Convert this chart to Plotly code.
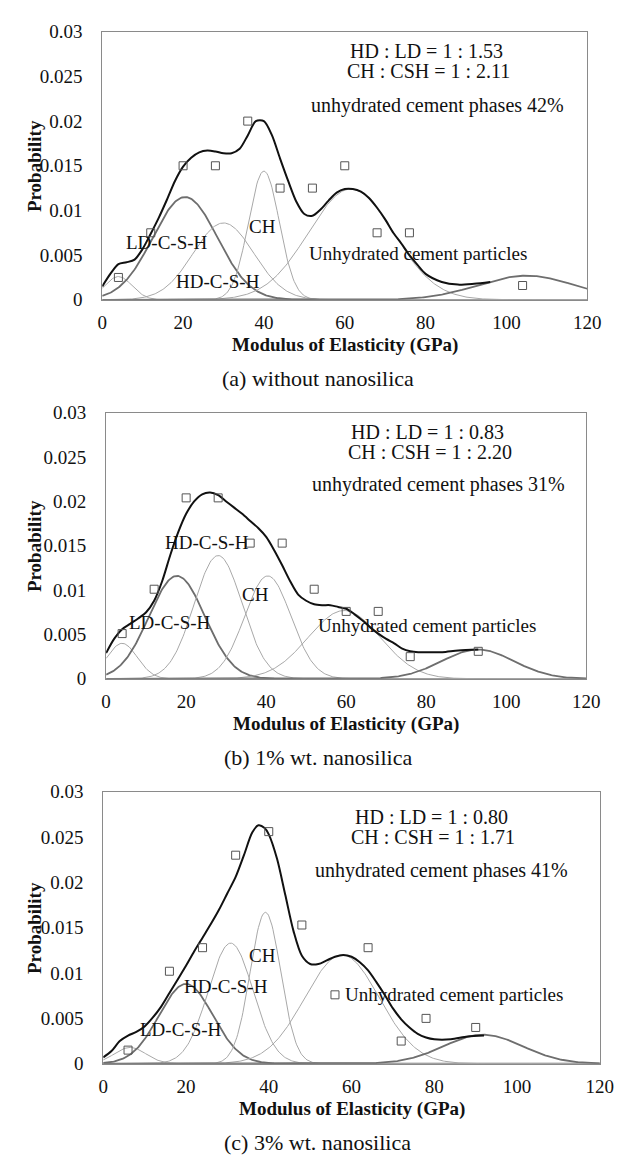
import numpy as np
import plotly.graph_objects as go

# ---------------- data ----------------
# histogram bin probabilities (open squares)
a_bin_x = [4, 12, 20, 28, 36, 44, 52, 60, 68, 76, 104]
a_bin_y = [0.0025, 0.0075, 0.015, 0.015, 0.020, 0.0125, 0.0125, 0.015, 0.0075, 0.0075, 0.0016]
b_bin_x = [4, 12, 20, 28, 36, 44, 52, 60, 68, 76, 93]
b_bin_y = [0.0051, 0.0101, 0.0204, 0.0204, 0.0153, 0.0153, 0.0101, 0.0076, 0.0076, 0.0025, 0.0031]
c_bin_x = [6, 16, 24, 32, 40, 48, 56, 64, 72, 78, 90]
c_bin_y = [0.0015, 0.0102, 0.0128, 0.0230, 0.0256, 0.0153, 0.0076, 0.0128, 0.0025, 0.0050, 0.0040]

# fitted normal components: [small, LD-C-S-H, HD-C-S-H, CH, unhydrated, unhydrated 2]
comp_dark = [False, True, False, False, False, True]
a_mean = [4, 20.5, 30, 40, 61.5, 105]
a_sd = [3.4, 8, 7.5, 3.8, 10.5, 12]
a_peak = [0.0026, 0.0115, 0.0086, 0.0144, 0.0124, 0.0027]
b_mean = [4, 17.7, 28, 40.4, 59.5, 92.9]
b_sd = [3.8, 7, 6, 5.8, 9, 9]
b_peak = [0.0040, 0.0116, 0.0139, 0.0116, 0.0077, 0.0033]
c_mean = [6.5, 20, 30.8, 39.2, 57.7, 91.8]
c_sd = [3.8, 6.5, 5.4, 3.7, 9, 9.5]
c_peak = [0.0018, 0.0088, 0.0133, 0.0167, 0.0120, 0.0032]

# overall fitted curve (black)
a_env_x = [0, 2, 4, 6, 8, 10, 12, 14, 16, 18, 20, 22, 24, 26, 28, 30, 32, 34, 36, 38, 40, 42, 44, 46, 48,
           50, 52, 54, 56, 58, 60, 62, 64, 66, 68, 70, 72, 74, 76, 78, 80, 84, 88, 92, 96]
a_env_y = [0.0015, 0.0029, 0.0040, 0.0042, 0.0045, 0.0057, 0.0074, 0.0092, 0.0112, 0.0133, 0.0149, 0.0159,
           0.0165, 0.0167, 0.0166, 0.0164, 0.0164, 0.0169, 0.0184, 0.0200, 0.0200, 0.0184, 0.0158, 0.0133,
           0.0110, 0.0096, 0.0094, 0.0101, 0.0111, 0.0120, 0.0124, 0.0124, 0.0121, 0.0114, 0.0103, 0.0090,
           0.0075, 0.0063, 0.0050, 0.0039, 0.0029, 0.0020, 0.0017, 0.0018, 0.0020]
b_env_x = [0, 2, 4, 6, 8, 10, 12, 14, 16, 18, 20, 22, 24, 26, 28, 30, 32, 34, 36, 38, 40, 42, 44, 46, 48,
           50, 52, 54, 56, 58, 60, 62, 64, 66, 68, 70, 72, 74, 76, 78, 80, 84, 88, 93]
b_env_y = [0.0029, 0.0045, 0.0056, 0.0062, 0.0068, 0.0075, 0.0088, 0.0110, 0.0139, 0.0165, 0.0186, 0.0200,
           0.0208, 0.0210, 0.0207, 0.0200, 0.0193, 0.0186, 0.0178, 0.0170, 0.0160, 0.0145, 0.0128, 0.0110,
           0.0095, 0.0088, 0.0084, 0.0083, 0.0083, 0.0081, 0.0079, 0.0073, 0.0066, 0.0058, 0.0051, 0.0045,
           0.0040, 0.0034, 0.0031, 0.0030, 0.0030, 0.0030, 0.0032, 0.0033]
c_env_x = [0, 2, 4, 6, 8, 10, 12, 14, 16, 18, 20, 22, 24, 26, 28, 30, 32, 34, 36, 37.5, 39, 40, 42, 44, 46,
           48, 50, 52, 54, 56, 58, 60, 62, 64, 66, 68, 70, 72, 74, 76, 78, 80, 84, 88, 92]
c_env_y = [0.0007, 0.0014, 0.0025, 0.0031, 0.0035, 0.0041, 0.0051, 0.0063, 0.0078, 0.0093, 0.0108, 0.0124,
           0.0139, 0.0154, 0.0170, 0.0188, 0.0206, 0.0230, 0.0255, 0.0263, 0.0260, 0.0253, 0.0226, 0.0186,
           0.0146, 0.0119, 0.0110, 0.0110, 0.0114, 0.0118, 0.0120, 0.0118, 0.0112, 0.0103, 0.0090, 0.0076,
           0.0061, 0.0049, 0.0040, 0.0033, 0.0029, 0.0027, 0.0027, 0.0030, 0.0031]

# annotation texts
panel_titles = ["(a) without nanosilica", "(b) 1% wt. nanosilica", "(c) 3% wt. nanosilica"]
ratio_hd = ["HD : LD = 1 : 1.53", "HD : LD = 1 : 0.83", "HD : LD = 1 : 0.80"]
ratio_ch = ["CH : CSH = 1 : 2.11", "CH : CSH = 1 : 2.20", "CH : CSH = 1 : 1.71"]
unhyd_txt = ["unhydrated cement phases 42%", "unhydrated cement phases 31%", "unhydrated cement phases 41%"]
phase_names = ["LD-C-S-H", "HD-C-S-H", "CH", "Unhydrated cement particles"]
x_ticks = [0, 20, 40, 60, 80, 100, 120]
y_ticks = [0, 0.005, 0.01, 0.015, 0.02, 0.025, 0.03]
y_ticktext = ["0", "0.005", "0.01", "0.015", "0.02", "0.025", "0.03"]

# ---------------- layout geometry (pixels) ----------------
W, H = 634, 1160
boxes = [  # left, right, top, bottom
    (92, 592, 14, 287),
    (96, 591, 402, 673),
    (93, 605, 788, 1065),
]
# text positions in data coords per panel
ratio_pos = [[(80.2, 0.0278), (80.6, 0.0256), (83.0, 0.0218)],
             [(80.4, 0.0278), (81.0, 0.0256), (83.0, 0.0219)],
             [(79.3, 0.0272), (79.6, 0.0250), (81.7, 0.0213)]]
phase_pos = [[(16.1, 0.0064), (28.7, 0.0020), (39.6, 0.0082), (78.1, 0.0052)],
             [(15.9, 0.0064), (25.2, 0.0154), (37.4, 0.0095), (80.1, 0.0060)],
             [(18.8, 0.0038), (29.6, 0.0085), (38.5, 0.0119), (84.7, 0.0076)]]

FONT = "Liberation Serif"
fig = go.Figure()
grid = np.linspace(0, 120, 481)

panels = [
    (a_bin_x, a_bin_y, a_mean, a_sd, a_peak, a_env_x, a_env_y),
    (b_bin_x, b_bin_y, b_mean, b_sd, b_peak, b_env_x, b_env_y),
    (c_bin_x, c_bin_y, c_mean, c_sd, c_peak, c_env_x, c_env_y),
]

annotations = []
for i, (bx, by, mu, sd, pk, ex, ey) in enumerate(panels):
    xa = "x" if i == 0 else f"x{i+1}"
    ya = "y" if i == 0 else f"y{i+1}"
    for k in range(len(mu)):
        yv = pk[k] * np.exp(-((grid - mu[k]) ** 2) / (2 * sd[k] ** 2))
        dark = comp_dark[k]
        fig.add_trace(go.Scatter(
            x=grid, y=yv, mode="lines", xaxis=xa, yaxis=ya, showlegend=False,
            line=dict(color="#6e6e6e" if dark else "#a8a8a8", width=1.8 if dark else 1.0),
            hoverinfo="skip"))
    fig.add_trace(go.Scatter(
        x=ex, y=ey, mode="lines", xaxis=xa, yaxis=ya, showlegend=False,
        line=dict(color="#111111", width=2, shape="spline", smoothing=0.8)))
    fig.add_trace(go.Scatter(
        x=bx, y=by, mode="markers", xaxis=xa, yaxis=ya, showlegend=False,
        marker=dict(symbol="square-open", size=8, color="#555555", line=dict(width=1, color="#555555"))))

    l, r, t, b = boxes[i]
    dom_x = [l / W, r / W]
    dom_y = [1 - b / H, 1 - t / H]
    axcommon = dict(showgrid=False, zeroline=False, showline=True, mirror=True,
                    linecolor="#8a8a8a", linewidth=1, ticks="",
                    tickfont=dict(family=FONT, size=19, color="#111"))
    fig.update_layout(**{
        ("xaxis" if i == 0 else f"xaxis{i+1}"): dict(
            domain=dom_x, range=[0, 120], tickvals=x_ticks, anchor=ya,
            ticklabelstandoff=5, **axcommon),
        ("yaxis" if i == 0 else f"yaxis{i+1}"): dict(
            domain=dom_y, range=[0, 0.03], tickvals=y_ticks, ticktext=y_ticktext, anchor=xa,
            ticklabelstandoff=15, **axcommon),
    })

    for (txt, (px, py)) in zip([ratio_hd[i], ratio_ch[i], unhyd_txt[i]], ratio_pos[i]):
        annotations.append(dict(text=txt, x=px, y=py, xref=xa, yref=ya, showarrow=False,
                                xanchor="center", yanchor="middle",
                                font=dict(family=FONT, size=20, color="#111")))
    for (txt, (px, py)) in zip(phase_names, phase_pos[i]):
        annotations.append(dict(text=txt, x=px, y=py, xref=xa, yref=ya, showarrow=False,
                                xanchor="center", yanchor="middle",
                                font=dict(family=FONT, size=19, color="#111")))
    # axis titles and panel caption
    annotations.append(dict(text="<b>Modulus of Elasticity (GPa)</b>", x=(l + r) / 2 / W,
                            y=1 - (b + 46) / H, xref="paper", yref="paper", showarrow=False,
                            xanchor="center", yanchor="middle",
                            font=dict(family=FONT, size=19, color="#111")))
    annotations.append(dict(text="<b>Probability</b>", x=22 / W, y=1 - (t + b) / 2 / H,
                            xref="paper", yref="paper", showarrow=False, textangle=-90,
                            xanchor="center", yanchor="middle",
                            font=dict(family=FONT, size=19, color="#111")))
    annotations.append(dict(text=panel_titles[i], x=314 / W, y=1 - (b + 80) / H,
                            xref="paper", yref="paper", showarrow=False,
                            xanchor="center", yanchor="middle",
                            font=dict(family=FONT, size=22, color="#111")))

fig.update_layout(width=W, height=H, margin=dict(l=0, r=0, t=0, b=0),
                  paper_bgcolor="white", plot_bgcolor="white",
                  annotations=annotations, showlegend=False)
fig.write_html("out.html")
